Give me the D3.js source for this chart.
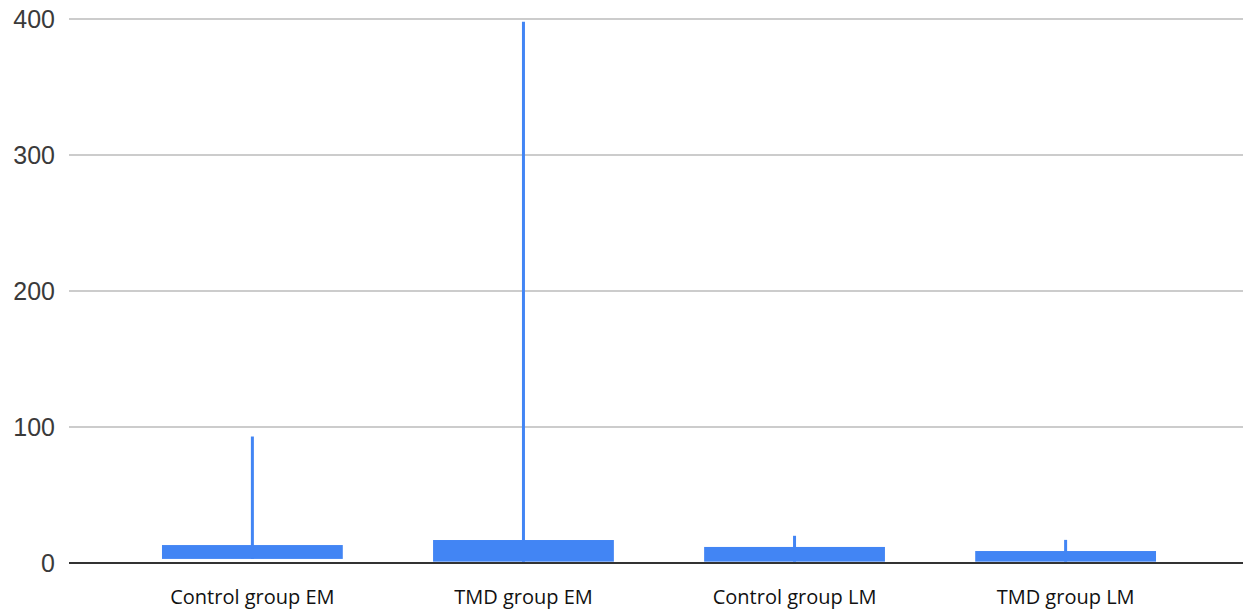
<!DOCTYPE html>
<html>
<head>
<meta charset="utf-8">
<script src="https://cdn.jsdelivr.net/npm/d3@7"></script>
<style>
  html, body { margin: 0; padding: 0; background: #fff; }
  svg { display: block; }
</style>
</head>
<body>
<svg id="chart" width="1245" height="611"></svg>
<script>
const categories = ["Control group EM", "TMD group EM", "Control group LM", "TMD group LM"];
const boxLow = [3, 1, 1, 1];
const boxHigh = [13.2, 16.9, 11.8, 8.8];
const whiskerLow = [3, 1, 1, 1];
const whiskerHigh = [93, 398, 20, 17];
const yTicks = [0, 100, 200, 300, 400];

(function () {
const data = categories.map((c, i) => ({
  cat: c, lo: boxLow[i], hi: boxHigh[i], wlo: whiskerLow[i], whi: whiskerHigh[i]
}));

const svg = d3.select("#chart");
const plotLeft = 69, plotRight = 1243, plotTop = 19, plotBottom = 563;
const color = "#4285f4";

const x = d3.scaleBand().domain(categories).range([plotLeft, 1249]).paddingInner(0.333).paddingOuter(0.343);
const y = d3.scaleLinear().domain([0, 400]).range([plotBottom, plotTop]);

// gridlines
svg.append("g")
  .selectAll("line")
  .data(yTicks.filter(t => t !== 0))
  .join("line")
  .attr("x1", plotLeft).attr("x2", plotRight)
  .attr("y1", d => y(d)).attr("y2", d => y(d))
  .attr("stroke", "#cccccc").attr("stroke-width", 2);

// y axis labels
const yAxis = d3.axisLeft(y).tickValues(yTicks).tickSize(0).tickPadding(14);
const gy = svg.append("g").attr("transform", `translate(${plotLeft},0)`).call(yAxis);
gy.select(".domain").remove();
gy.selectAll("text")
  .attr("font-family", "Liberation Sans, Arial, sans-serif")
  .attr("font-size", 25)
  .attr("fill", "#3a3a3a");

// whiskers
svg.append("g")
  .selectAll("line")
  .data(data)
  .join("line")
  .attr("x1", d => x(d.cat) + x.bandwidth() / 2)
  .attr("x2", d => x(d.cat) + x.bandwidth() / 2)
  .attr("y1", d => y(d.wlo))
  .attr("y2", d => y(d.whi))
  .attr("stroke", color).attr("stroke-width", 3);

// boxes
svg.append("g")
  .selectAll("rect")
  .data(data)
  .join("rect")
  .attr("x", d => x(d.cat))
  .attr("width", x.bandwidth())
  .attr("y", d => y(d.hi))
  .attr("height", d => y(d.lo) - y(d.hi))
  .attr("fill", color);

// baseline
svg.append("line")
  .attr("x1", plotLeft).attr("x2", plotRight)
  .attr("y1", y(0)).attr("y2", y(0))
  .attr("stroke", "#333").attr("stroke-width", 2);

// x labels
const xAxis = d3.axisBottom(x).tickSize(0).tickPadding(27);
const gx = svg.append("g").attr("transform", `translate(0,${plotBottom})`).call(xAxis);
gx.select(".domain").remove();
gx.selectAll("text")
  .attr("font-family", "Open Sans, Noto Sans, sans-serif")
  .attr("font-size", 20)
  .attr("fill", "#111");
})();
</script>
</body>
</html>
